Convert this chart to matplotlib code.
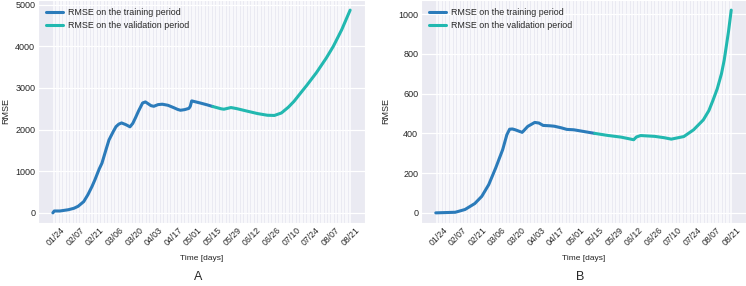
import matplotlib
matplotlib.use('Agg')
import matplotlib.pyplot as plt
import matplotlib.dates as mdates
import pandas as pd
import seaborn as sns

sns.set_style('darkgrid')
plt.rcParams['font.family'] = ['Liberation Sans', 'DejaVu Sans']

# ---------------- Data ----------------
a_train_dates = ['2020-01-22', '2020-01-23', '2020-01-27', '2020-02-02', '2020-02-06',
                 '2020-02-09', '2020-02-13', '2020-02-16', '2020-02-19', '2020-02-21',
                 '2020-02-24', '2020-02-26', '2020-02-29', '2020-03-02', '2020-03-05',
                 '2020-03-07', '2020-03-09', '2020-03-11', '2020-03-14', '2020-03-17',
                 '2020-03-19', '2020-03-21', '2020-03-23', '2020-03-26', '2020-03-28',
                 '2020-04-01', '2020-04-03', '2020-04-06', '2020-04-09', '2020-04-13',
                 '2020-04-17', '2020-04-20', '2020-04-22', '2020-04-25', '2020-04-28',
                 '2020-04-29', '2020-04-30', '2020-05-03', '2020-05-06', '2020-05-11',
                 '2020-05-15']
a_train_vals = [0, 45, 45, 75, 110,
                158, 270, 437, 640, 795,
                1050, 1193, 1530, 1750, 1948,
                2070, 2131, 2160, 2120, 2067,
                2150, 2290, 2440, 2640, 2665,
                2575, 2560, 2600, 2610, 2585,
                2530, 2485, 2465, 2480, 2510,
                2560, 2690, 2665, 2640, 2595,
                2555]
a_val_dates = ['2020-05-15', '2020-05-21', '2020-05-23', '2020-05-28', '2020-06-01',
               '2020-06-09', '2020-06-16', '2020-06-23', '2020-06-28', '2020-07-03',
               '2020-07-08', '2020-07-12', '2020-07-16', '2020-07-21', '2020-07-28',
               '2020-08-04', '2020-08-09', '2020-08-15', '2020-08-21']
a_val_vals = [2555, 2500, 2490, 2530, 2505,
              2440, 2385, 2345, 2340, 2400,
              2540, 2680, 2850, 3060, 3370,
              3720, 4000, 4400, 4870]

b_train_dates = ['2020-01-22', '2020-02-05', '2020-02-12', '2020-02-19', '2020-02-24',
                 '2020-02-29', '2020-03-05', '2020-03-10', '2020-03-13', '2020-03-15',
                 '2020-03-17', '2020-03-19', '2020-03-24', '2020-03-28', '2020-04-02',
                 '2020-04-05', '2020-04-08', '2020-04-13', '2020-04-16', '2020-04-21',
                 '2020-04-25', '2020-04-30', '2020-05-05', '2020-05-10', '2020-05-15']
b_train_vals = [0, 3, 17, 47, 83,
                142, 226, 318, 393, 421,
                422, 418, 405, 435, 455,
                452, 440, 438, 436, 428,
                420, 418, 412, 406, 400]
b_val_dates = ['2020-05-15', '2020-05-24', '2020-06-03', '2020-06-12', '2020-06-14',
               '2020-06-17', '2020-06-27', '2020-07-04', '2020-07-09', '2020-07-18',
               '2020-07-25', '2020-08-01', '2020-08-05', '2020-08-08', '2020-08-11',
               '2020-08-14', '2020-08-16', '2020-08-19', '2020-08-21']
b_val_vals = [400, 390, 381, 368, 382,
              389, 385, 378, 371, 384,
              418, 468, 515, 568, 625,
              700, 770, 910, 1020]

tick_dates = ['2020-01-24', '2020-02-07', '2020-02-21', '2020-03-06', '2020-03-20',
              '2020-04-03', '2020-04-17', '2020-05-01', '2020-05-15', '2020-05-29',
              '2020-06-12', '2020-06-26', '2020-07-10', '2020-07-24', '2020-08-07',
              '2020-08-21']
tick_labels = ['01/24', '02/07', '02/21', '03/06', '03/20', '04/03', '04/17', '05/01',
               '05/15', '05/29', '06/12', '06/26', '07/10', '07/24', '08/07', '08/21']
day_start, day_end = '2020-01-22', '2020-08-21'

train_color = '#2b7bba'
val_color = '#22b8b0'

fig = plt.figure(figsize=(7.46, 2.86), dpi=100)
axA = fig.add_axes([38 / 746, 63 / 286, 327 / 746, 223 / 286])
axB = fig.add_axes([421 / 746, 63 / 286, 325 / 746, 223 / 286])

panels = [
    (axA, a_train_dates, a_train_vals, a_val_dates, a_val_vals,
     [0, 1000, 2000, 3000, 4000, 5000], 'A', -0.085),
    (axB, b_train_dates, b_train_vals, b_val_dates, b_val_vals,
     [0, 200, 400, 600, 800, 1000], 'B', -0.095),
]

minor_days = mdates.date2num(pd.date_range(day_start, day_end))
major_days = mdates.date2num(pd.to_datetime(tick_dates))

for ax, td, tv, vd, vv, yt, letter, ylx in panels:
    ax.plot(pd.to_datetime(td), tv, color=train_color, lw=2.2,
            label='RMSE on the training period', solid_joinstyle='round')
    ax.plot(pd.to_datetime(vd), vv, color=val_color, lw=2.2,
            label='RMSE on the validation period', solid_joinstyle='round')
    ax.set_xticks(minor_days, minor=True)
    ax.set_xticks(major_days)
    ax.set_xticklabels(tick_labels, rotation=45, ha='center', fontsize=6.3)
    ax.set_yticks(yt)
    ax.set_yticklabels([str(v) for v in yt], fontsize=6.5)
    ax.tick_params(axis='both', which='both', length=0, pad=2.0)
    ax.grid(which='minor', axis='x', color='white', linewidth=0.5)
    ax.grid(which='major', axis='x', color='white', linewidth=0.5)
    ax.grid(which='major', axis='y', color='white', linewidth=0.9)
    ax.set_xlabel('Time [days]', fontsize=6.0, labelpad=5)
    ax.set_ylabel('RMSE', fontsize=6.5)
    ax.yaxis.set_label_coords(ylx, 0.5)
    ax.legend(loc='upper left', frameon=False, fontsize=6.4, handlelength=1.9,
              borderaxespad=0.5, labelspacing=0.45, handletextpad=0.6)
    pos = ax.get_position()
    fig.text((pos.x0 + pos.x1) / 2 - 0.004, 1 - 277 / 286, letter,
             ha='center', va='center', fontsize=9)

fig.savefig('out.png', dpi=100)
